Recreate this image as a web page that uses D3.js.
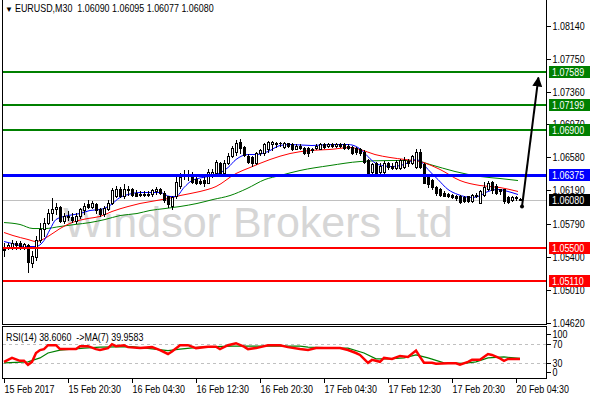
<!DOCTYPE html>
<html><head><meta charset="utf-8">
<script src="https://cdn.jsdelivr.net/npm/d3@7/dist/d3.min.js"></script>
<style>
body{margin:0;background:#fff;}
svg{display:block;}
text{font-family:"Liberation Sans",Arial,sans-serif;font-size:11px;fill:#000;}
</style></head><body>
<svg id="c" width="590" height="400"></svg>
<script>
// ---------- data ----------
const symbol = "EURUSD,M30";
const lastOHLC = ["1.06090","1.06095","1.06077","1.06080"];
const watermark = "Windsor Brokers Ltd";

const opens = [1.05523,1.05511,1.05523,1.05559,1.05570,1.05523,1.05535,1.05333,1.05393,1.05606,
1.05725,1.05807,1.05926,1.05962,1.05997,1.05831,1.05890,1.05867,1.05831,1.05890,
1.05950,1.06021,1.05997,1.06021,1.05962,1.05914,1.05973,1.06044,1.06127,1.06210,
1.06116,1.06187,1.06199,1.06163,1.06151,1.06139,1.06151,1.06151,1.06175,1.06199,
1.06163,1.06116,1.06009,1.06116,1.06246,1.06353,1.06388,1.06388,1.06329,1.06305,
1.06317,1.06281,1.06353,1.06400,1.06507,1.06400,1.06518,1.06590,1.06649,1.06767,
1.06708,1.06601,1.06578,1.06518,1.06637,1.06637,1.06673,1.06732,1.06755,1.06744,
1.06708,1.06744,1.06732,1.06684,1.06720,1.06696,1.06696,1.06684,1.06696,1.06684,
1.06732,1.06720,1.06732,1.06720,1.06732,1.06732,1.06720,1.06708,1.06696,1.06684,
1.06649,1.06554,1.06412,1.06518,1.06412,1.06412,1.06507,1.06483,1.06459,1.06459,
1.06471,1.06542,1.06518,1.06471,1.06649,1.06495,1.06341,1.06317,1.06234,1.06199,
1.06163,1.06151,1.06139,1.06127,1.06127,1.06104,1.06116,1.06068,1.06139,1.06044,
1.06139,1.06199,1.06293,1.06246,1.06199,1.06199,1.06104,1.06080,1.06092,1.06090];
const highs = [1.05559,1.05559,1.05606,1.05594,1.05594,1.05570,1.05547,1.05464,1.05653,1.05796,
1.05855,1.05962,1.06092,1.06033,1.06009,1.05926,1.05938,1.05926,1.05926,1.05985,
1.06044,1.06080,1.06068,1.06033,1.05985,1.06009,1.06080,1.06222,1.06246,1.06234,
1.06258,1.06246,1.06222,1.06187,1.06175,1.06175,1.06175,1.06199,1.06234,1.06222,
1.06175,1.06127,1.06127,1.06388,1.06400,1.06424,1.06424,1.06412,1.06353,1.06329,
1.06353,1.06436,1.06436,1.06554,1.06530,1.06554,1.06637,1.06720,1.06791,1.06803,
1.06720,1.06625,1.06601,1.06649,1.06684,1.06744,1.06779,1.06779,1.06767,1.06767,
1.06767,1.06755,1.06744,1.06732,1.06732,1.06708,1.06708,1.06696,1.06732,1.06744,
1.06744,1.06744,1.06744,1.06744,1.06744,1.06744,1.06732,1.06720,1.06708,1.06696,
1.06661,1.06566,1.06518,1.06530,1.06507,1.06542,1.06530,1.06507,1.06554,1.06566,
1.06578,1.06566,1.06613,1.06673,1.06684,1.06518,1.06364,1.06329,1.06246,1.06222,
1.06175,1.06163,1.06151,1.06139,1.06139,1.06127,1.06127,1.06151,1.06163,1.06187,
1.06293,1.06305,1.06305,1.06258,1.06210,1.06210,1.06116,1.06116,1.06116,1.06095];
const lows = [1.05416,1.05488,1.05488,1.05499,1.05499,1.05499,1.05215,1.05286,1.05369,1.05582,
1.05653,1.05784,1.05843,1.05914,1.05819,1.05807,1.05843,1.05819,1.05796,1.05855,
1.05914,1.05985,1.05985,1.05926,1.05890,1.05890,1.05950,1.06021,1.06104,1.06104,
1.06092,1.06139,1.06116,1.06116,1.06116,1.06127,1.06116,1.06127,1.06151,1.06151,
1.06056,1.05997,1.05973,1.06092,1.06222,1.06329,1.06317,1.06281,1.06258,1.06258,
1.06246,1.06270,1.06341,1.06388,1.06364,1.06376,1.06495,1.06578,1.06613,1.06637,
1.06590,1.06507,1.06483,1.06495,1.06613,1.06613,1.06649,1.06661,1.06708,1.06720,
1.06696,1.06708,1.06661,1.06673,1.06684,1.06625,1.06601,1.06649,1.06684,1.06673,
1.06696,1.06708,1.06708,1.06708,1.06708,1.06684,1.06673,1.06625,1.06625,1.06613,
1.06518,1.06353,1.06388,1.06353,1.06388,1.06388,1.06447,1.06447,1.06436,1.06436,
1.06459,1.06483,1.06495,1.06459,1.06459,1.06270,1.06234,1.06199,1.06139,1.06127,
1.06116,1.06104,1.06092,1.06080,1.06044,1.06056,1.06056,1.06056,1.06104,1.06033,
1.06127,1.06187,1.06163,1.06151,1.06151,1.06044,1.06033,1.06068,1.06080,1.06077];
const closes = [1.05476,1.05535,1.05559,1.05535,1.05523,1.05547,1.05345,1.05416,1.05606,1.05725,
1.05807,1.05926,1.05962,1.05997,1.05831,1.05890,1.05867,1.05843,1.05890,1.05962,
1.06009,1.05997,1.06033,1.05950,1.05914,1.05985,1.06044,1.06187,1.06210,1.06127,
1.06199,1.06199,1.06139,1.06127,1.06139,1.06151,1.06139,1.06187,1.06199,1.06163,
1.06080,1.06021,1.06104,1.06293,1.06341,1.06388,1.06364,1.06293,1.06281,1.06281,
1.06270,1.06412,1.06412,1.06530,1.06388,1.06518,1.06601,1.06696,1.06744,1.06696,
1.06613,1.06530,1.06518,1.06637,1.06661,1.06732,1.06767,1.06767,1.06732,1.06755,
1.06755,1.06720,1.06673,1.06720,1.06696,1.06637,1.06637,1.06661,1.06720,1.06732,
1.06708,1.06732,1.06720,1.06732,1.06720,1.06696,1.06696,1.06637,1.06649,1.06637,
1.06530,1.06400,1.06495,1.06400,1.06483,1.06518,1.06471,1.06459,1.06530,1.06554,
1.06554,1.06518,1.06590,1.06649,1.06471,1.06281,1.06258,1.06234,1.06163,1.06139,
1.06127,1.06116,1.06104,1.06092,1.06056,1.06068,1.06068,1.06139,1.06116,1.06175,
1.06234,1.06281,1.06187,1.06163,1.06175,1.06068,1.06056,1.06104,1.06104,1.06080];

// moving averages: [bar index, price]
const maFast = [[0,1.05582],[3,1.05547],[5,1.05523],[8,1.05523],[10,1.05594],[11.5,1.05725],[13,1.05843],[16,1.05890],[19,1.05914],[21.5,1.05950],[24,1.05962],[26.5,1.06009],[29,1.06104],[31,1.06139],[34,1.06163],[39,1.06163],[41.5,1.06116],[43,1.06116],[45,1.06222],[47,1.06305],[51,1.06353],[53,1.06376],[56,1.06459],[58,1.06554],[61,1.06613],[63,1.06613],[66,1.06649],[69,1.06720],[71.5,1.06732],[77,1.06720],[82,1.06732],[86,1.06732],[88.5,1.06696],[90,1.06637],[92,1.06542],[93.5,1.06495],[97,1.06471],[100,1.06495],[103,1.06554],[104.5,1.06518],[106,1.06436],[108.5,1.06317],[111,1.06199],[113.5,1.06139],[117,1.06104],[118.5,1.06116],[121,1.06175],[123.5,1.06199],[126,1.06175],[128.5,1.06139]];
const maMid = [[0,1.05689],[2.25,1.05653],[6,1.05606],[8,1.05582],[11,1.05642],[14,1.05736],[17,1.05807],[21,1.05855],[24,1.05879],[27,1.05938],[31,1.05997],[34,1.06033],[41,1.06092],[44,1.06127],[49,1.06175],[53,1.06234],[58,1.06388],[61.5,1.06459],[66.5,1.06554],[71.5,1.06625],[76.5,1.06661],[81.5,1.06673],[86.5,1.06696],[89,1.06673],[92.75,1.06613],[96.5,1.06578],[100.25,1.06554],[104,1.06530],[109,1.06436],[114,1.06305],[119,1.06246],[124,1.06222],[128.5,1.06175]];
const maSlow = [[0,1.05807],[4,1.05784],[7.25,1.05736],[10.25,1.05736],[14,1.05760],[17.75,1.05784],[21.5,1.05807],[25.25,1.05843],[29,1.05890],[33.25,1.05914],[36.5,1.05950],[40.25,1.05973],[44,1.05997],[48.25,1.06033],[52.25,1.06080],[56.5,1.06127],[60.75,1.06210],[65.25,1.06317],[69,1.06364],[74,1.06424],[81.5,1.06483],[89,1.06530],[96.5,1.06542],[102.75,1.06542],[106.5,1.06495],[112.75,1.06412],[119,1.06353],[124,1.06329],[128.5,1.06305]];

const rsiValues = [[0,33],[1,37],[2,41],[4,35],[5,35],[6,27],[7,33],[8,51],[9,57],[10,59],[11,67],[13,67],[14,59],[16,59],[18,59],[19,65],[21,65],[23,59],[24,57],[26,61],[27,69],[28,65],[30,67],[31,63],[34,61],[37,63],[39,57],[41,49],[42,54],[44,67],[46,67],[48,61],[51,64],[53,64],[54,59],[56,67],[58,71],[60,64],[61,59],[63,61],[66,67],[69,67],[71,63],[74,59],[76,57],[78,61],[84,61],[86,57],[88,51],[89,47],[91,31],[92,37],[94,33],[95,41],[97,39],[99,45],[101,43],[103,56],[104,43],[105,31],[107,31],[108,29],[111,30],[113,30],[114,27],[116,33],[117,37],[119,37],[121,49],[122,47],[124,40],[125,35],[126,39],[127,39],[129,38.606]];
const rsiMA = [[0,31],[6,33],[9,41],[11,51],[14,57],[20,61],[24,63],[32,64],[41,56],[44,59],[49,63],[57,65],[66,65],[74,65],[76,63],[84,61],[86,61],[90,51],[93,39],[96,39],[100,41],[103,47],[106,41],[110,31],[115,30],[118,33],[121,41],[125,43],[129,39.9583]];
const rsiNow = "38.6060", rsiMaNow = "39.9583";
const rsiLevels = [70, 30];
const rsiTicks = [100, 70, 30, 0];

const priceTicks = [1.08140,1.07750,1.07360,1.06970,1.06580,1.06190,1.05790,1.05400,1.05010,1.04620];
const timeTickBars = [0,16,32,48,64,80,96,112,128];
const timeLabels = ["15 Feb 2017","15 Feb 20:30","16 Feb 04:30","16 Feb 12:30","16 Feb 20:30","17 Feb 04:30","17 Feb 12:30","17 Feb 20:30","20 Feb 04:30"];

const levelPrices = [1.07589,1.07199,1.06900,1.06375,1.06080,1.05500,1.05110];
const levelKinds  = ["resist","resist","resist","pivot","bid","support","support"];
const arrowFrom = [129.5, 1.05997];
const arrowTo   = [133.6, 1.07526];

// ---------- drawing ----------
const svg = d3.select("#c");
const L = 2.5, R = 546.5, B = 324.5, RT = 326.5, RB = 378.5;
const xs = d3.scaleLinear().domain([0,129]).range([4,520]);
const ys = d3.scaleLinear().domain([1.04620,1.08140]).range([322.7,25.7]);
const rs = d3.scaleLinear().domain([0,100]).range([378,329]);
const fmt = d3.format(".5f");
const NARROW = 0.81;
const levelStyle = {
  resist:{c:"#008000",w:2,box:"#008000"},
  pivot:{c:"#0000ff",w:3,box:"#0000ff"},
  bid:{c:"#c0c0c0",w:1,box:"#000000"},
  support:{c:"#ff0000",w:2,box:"#ff0000"}
};

svg.append("rect").attr("width",590).attr("height",400).attr("fill","#fff");

svg.append("clipPath").attr("id","mainClip").append("rect")
  .attr("x",L).attr("y",0).attr("width",R-L).attr("height",B);
svg.append("clipPath").attr("id","rsiClip").append("rect")
  .attr("x",L).attr("y",RT).attr("width",R-L).attr("height",RB-RT);

const main = svg.append("g").attr("clip-path","url(#mainClip)");

// watermark
main.append("text").text(watermark).attr("class","wm")
  .attr("x",258).attr("y",237).attr("text-anchor","middle")
  .style("font-size","43px").style("fill","#d6d6d6");

// bid line under candles
levelPrices.forEach((p,k)=>{
  if(levelKinds[k]!=="bid") return;
  main.append("line").attr("x1",L).attr("x2",R)
    .attr("y1",Math.round(ys(p))+0.5).attr("y2",Math.round(ys(p))+0.5)
    .attr("stroke",levelStyle.bid.c).attr("stroke-width",1);
});

// moving averages
const lineGen = d3.line().x(d=>xs(d[0])).y(d=>ys(d[1])).curve(d3.curveMonotoneX);
[[maSlow,"#008000"],[maMid,"#ff0000"],[maFast,"#0000ff"]].forEach(([d,c])=>{
  main.append("path").attr("d",lineGen(d)).attr("fill","none").attr("stroke",c).attr("stroke-width",1);
});

// candles
const bars = d3.range(opens.length);
const cg = main.append("g").attr("shape-rendering","crispEdges");
bars.forEach(i=>{
  const cx = Math.round(xs(i));
  const o = ys(opens[i]), c = ys(closes[i]), h = ys(highs[i]), l = ys(lows[i]);
  cg.append("line").attr("x1",cx+0.5).attr("x2",cx+0.5)
    .attr("y1",Math.round(h)).attr("y2",Math.round(l)+1).attr("stroke","#000");
  const top = Math.round(Math.min(o,c)), bot = Math.round(Math.max(o,c));
  const up = closes[i] >= opens[i];
  if(bot - top < 1){
    cg.append("line").attr("x1",cx-1).attr("x2",cx+2).attr("y1",top+0.5).attr("y2",top+0.5).attr("stroke","#000");
  } else {
    cg.append("rect").attr("x",cx-0.5).attr("y",top+0.5).attr("width",2).attr("height",bot-top)
      .attr("fill",up?"#fff":"#000").attr("stroke","#000").attr("stroke-width",1);
  }
});

// horizontal levels
levelPrices.forEach((p,k)=>{
  const s = levelStyle[levelKinds[k]];
  if(levelKinds[k]==="bid") return;
  const y = Math.round(ys(p));
  main.append("line").attr("x1",L).attr("x2",R).attr("y1",y).attr("y2",y)
    .attr("stroke",s.c).attr("stroke-width",s.w).attr("shape-rendering","crispEdges");
});

// arrow
const defs = svg.append("defs");
defs.append("marker").attr("id","ah").attr("viewBox","0 0 10 10").attr("refX",9).attr("refY",5)
  .attr("markerWidth",5).attr("markerHeight",5).attr("orient","auto")
  .append("path").attr("d","M0,0L10,5L0,10z").attr("fill","#000");
main.append("line")
  .attr("x1",xs(arrowFrom[0])).attr("y1",ys(arrowFrom[1]))
  .attr("x2",xs(arrowTo[0])).attr("y2",ys(arrowTo[1]))
  .attr("stroke","#000").attr("stroke-width",2).attr("marker-end","url(#ah)");
main.append("circle").attr("cx",xs(arrowFrom[0])).attr("cy",ys(arrowFrom[1])).attr("r",2).attr("fill","#000");

// frames
const frame = svg.append("g").attr("fill","none").attr("stroke","#000").attr("stroke-width",1).attr("shape-rendering","crispEdges");
frame.append("path").attr("d",`M${L},0V${B}H${R}V0`);
frame.append("rect").attr("x",L).attr("y",RT).attr("width",R-L).attr("height",RB-RT);

// price axis
const ax = svg.append("g").attr("transform",`translate(${R},0)`)
  .call(d3.axisRight(ys).tickValues(priceTicks).tickFormat(fmt).tickSize(4).tickPadding(2));
ax.select(".domain").remove();
ax.selectAll("text").style("font-size","11px").style("font-family","'Liberation Sans',Arial,sans-serif").attr("fill","#000");
ax.selectAll("line").attr("shape-rendering","crispEdges");

// level labels
levelPrices.forEach((p,k)=>{
  const s = levelStyle[levelKinds[k]];
  const y = Math.round(ys(p));
  svg.append("rect").attr("x",549).attr("y",y-6).attr("width",41).attr("height",12).attr("fill",s.box);
  svg.append("text").text(fmt(p)).attr("x",552).attr("y",y).attr("dy","0.35em").style("fill","#fff");
});

// title
const title = svg.append("g");
title.append("rect").attr("x",3).attr("y",0).attr("width",215).attr("height",15).attr("fill","#fff");
title.append("text").text("\u25BC").attr("x",5).attr("y",12).style("font-size","8px").attr("class","wm");
title.append("text").text(symbol+"  "+lastOHLC.join(" ")).attr("x",15).attr("y",12).attr("xml:space","preserve");

// RSI panel
const rg = svg.append("g").attr("clip-path","url(#rsiClip)");
rsiLevels.forEach(v=>{
  rg.append("line").attr("x1",L).attr("x2",R).attr("y1",Math.round(rs(v))+0.5).attr("y2",Math.round(rs(v))+0.5)
    .attr("stroke","#c0c0c0").attr("stroke-dasharray","3,3").attr("shape-rendering","crispEdges");
});
const rLine = d3.line().x(d=>xs(d[0])).y(d=>rs(d[1]));
rg.append("path").attr("d",rLine(rsiMA)).attr("fill","none").attr("stroke","#008000").attr("stroke-width",1.2);
rg.append("path").attr("d",rLine(rsiValues)).attr("fill","none").attr("stroke","#ff0000").attr("stroke-width",2.5);
svg.append("text").text(`RSI(14) ${rsiNow}  ->MA(7) ${rsiMaNow}`).attr("x",6).attr("y",341).attr("xml:space","preserve");

rsiTicks.forEach(v=>{
  const y = Math.round(Math.min(Math.max(rs(v),334),372));
  svg.append("line").attr("x1",R).attr("x2",R+4).attr("y1",y+0.5).attr("y2",y+0.5).attr("stroke","#000").attr("shape-rendering","crispEdges");
  svg.append("text").text(v).attr("x",R+6).attr("y",y).attr("dy","0.35em");
});

// time axis
const tx = svg.append("g").attr("transform",`translate(0,${RB})`)
  .call(d3.axisBottom(xs).tickValues(timeTickBars).tickFormat((d,i)=>timeLabels[i]).tickSize(4).tickPadding(3));
tx.select(".domain").remove();
tx.selectAll("text").attr("text-anchor","start").attr("x",0).style("font-size","11px").style("font-family","'Liberation Sans',Arial,sans-serif").attr("fill","#000");
tx.selectAll("line").attr("shape-rendering","crispEdges");

// condense the small UI texts (MT4-style narrow font)
svg.selectAll("text").filter(function(){ return !this.classList.contains("wm"); }).each(function(){
  const w = this.getComputedTextLength();
  this.setAttribute("textLength", (w*NARROW).toFixed(1));
  this.setAttribute("lengthAdjust","spacingAndGlyphs");
});
</script>
</body></html>
